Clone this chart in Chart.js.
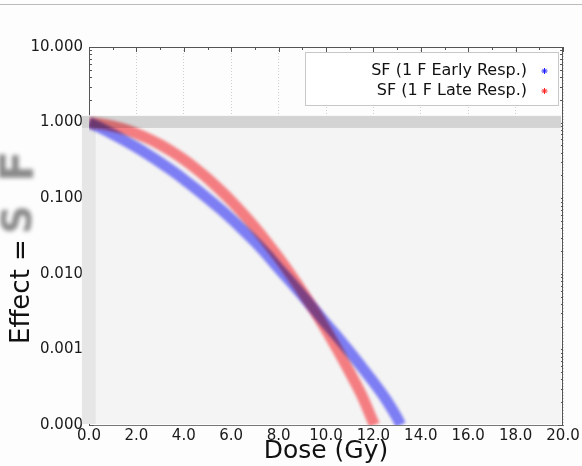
<!DOCTYPE html>
<html>
<head>
<meta charset="utf-8">
<script src="https://cdn.jsdelivr.net/npm/chart.js@4/dist/chart.umd.min.js"></script>
<style>
html, body { margin: 0; padding: 0; background: #fdfdfd; }
#wrap { width: 582px; height: 466px; }
</style>
</head>
<body>
<div id="wrap"><canvas id="doseChart" width="582" height="466"></canvas></div>
<script>
// Dose (Gy) and surviving fraction
const doseEarly = [0, 0.5, 1, 1.5, 2, 2.5, 3, 3.5, 4, 4.5, 5, 5.5, 6, 6.5, 7, 7.5, 8, 8.5, 9, 9.5, 10, 10.5, 11, 11.5, 12, 12.5, 13, 13.15];
const sfEarly = [1, 0.846, 0.706, 0.581, 0.471, 0.377, 0.298, 0.232, 0.178, 0.134, 0.100, 0.0738, 0.0535, 0.0380, 0.0265, 0.0180, 0.0118, 0.0079, 0.0052, 0.0034, 0.0022, 0.00145, 0.00093, 0.00059, 0.00037, 0.000225, 0.000125, 0.0001];

const doseLate = [0, 0.5, 1, 1.5, 2, 2.5, 3, 3.5, 4, 4.5, 5, 5.5, 6, 6.5, 7, 7.5, 8, 8.5, 9, 9.5, 10, 10.5, 11, 11.5, 12, 12.05];
const sfLate = [1, 0.961, 0.898, 0.814, 0.717, 0.614, 0.511, 0.412, 0.324, 0.247, 0.183, 0.131, 0.0918, 0.0623, 0.0411, 0.0263, 0.0164, 0.0099, 0.0058, 0.0033, 0.00182, 0.00097, 0.00050, 0.00025, 0.000108, 0.0001];

const seriesLabels = ['SF (1 F Early Resp.)', 'SF (1 F Late Resp.)'];
const yTicks = [0.0001, 0.001, 0.01, 0.1, 1, 10];

const FONT = '"DejaVu Sans", Verdana, sans-serif';

function toPoints(xs, ys) {
    return xs.map((x, i) => ({ x: x, y: ys[i] }));
}

// Frame, shaded image area and blend mode for the curves
const backdrop = {
    id: 'backdrop',
    beforeDatasetsDraw(chart) {
        const { ctx, chartArea: a, scales: { x, y } } = chart;
        ctx.save();
        // axis frame with ticks
        ctx.strokeStyle = '#555';
        ctx.lineWidth = 1;
        ctx.beginPath();
        ctx.moveTo(a.left, a.top + 0.5); ctx.lineTo(a.right, a.top + 0.5);
        ctx.moveTo(a.left + 0.5, a.top); ctx.lineTo(a.left + 0.5, a.bottom);
        ctx.moveTo(a.right - 0.5, a.top); ctx.lineTo(a.right - 0.5, a.bottom);
        for (let d = 0; d <= 20; d++) {
            const px = Math.round(x.getPixelForValue(d)) + 0.5;
            ctx.moveTo(px, a.top); ctx.lineTo(px, a.top + (d % 2 ? 3 : 5));
        }
        for (let e = -4; e < 1; e++) {
            for (let k = 1; k < 10; k++) {
                const py = Math.round(y.getPixelForValue(k * Math.pow(10, e))) + 0.5;
                const len = k === 1 ? 5 : 3;
                ctx.moveTo(a.left, py); ctx.lineTo(a.left + len, py);
                ctx.moveTo(a.right, py); ctx.lineTo(a.right - len, py);
            }
        }
        ctx.stroke();

        // shaded area of the image
        const x0 = x.getPixelForValue(-0.3);
        const x1 = a.right - 2;
        const yTop = y.getPixelForValue(1.25);
        ctx.fillStyle = '#f4f4f4';
        ctx.fillRect(x0, yTop, x1 - x0, a.bottom - 1 - yTop);
        const bTop = y.getPixelForValue(1.22);
        const bBot = y.getPixelForValue(0.85);
        ctx.fillStyle = '#d3d3d3';
        ctx.fillRect(x0, bTop, x1 - x0, bBot - bTop);
        const sx1 = x.getPixelForValue(0.28);
        ctx.fillStyle = '#e6e6e6';
        ctx.fillRect(x0, bBot, sx1 - x0, a.bottom - 1 - bBot);
        ctx.restore();

        ctx.save();
        ctx.globalCompositeOperation = 'multiply';
        ctx.filter = 'blur(1.5px)';
    },
    afterDatasetsDraw(chart) {
        chart.ctx.restore();
    }
};

// Legend box, y title, top rule
const decorations = {
    id: 'decorations',
    afterDraw(chart) {
        const { ctx, chartArea: a } = chart;
        ctx.save();

        // top rule
        ctx.strokeStyle = '#bbb';
        ctx.beginPath();
        ctx.moveTo(0, 4.5); ctx.lineTo(582, 4.5);
        ctx.stroke();

        // legend
        const bx0 = 305.5, bx1 = a.right - 4.5, by0 = a.top + 5.5, by1 = a.top + 58.5;
        ctx.fillStyle = '#fff';
        ctx.fillRect(bx0, by0, bx1 - bx0, by1 - by0);
        ctx.strokeStyle = '#c8c8c8';
        ctx.strokeRect(bx0, by0, bx1 - bx0, by1 - by0);
        ctx.font = '16px ' + FONT;
        ctx.textAlign = 'right';
        ctx.textBaseline = 'middle';
        chart.data.datasets.forEach((ds, i) => {
            const ty = a.top + 24 + i * 20;
            ctx.fillStyle = '#111';
            ctx.fillText(ds.label, 527, ty);
            ctx.strokeStyle = ds.markerColor;
            ctx.lineWidth = 1;
            Chart.helpers.drawPoint(ctx, { pointStyle: 'star', radius: 3, rotation: 0, borderWidth: 1 }, 544.5, ty);
        });

        // y axis title
        const cy = (a.top + a.bottom) / 2;
        ctx.translate(22, cy);
        ctx.rotate(-Math.PI / 2);
        ctx.textAlign = 'left';
        ctx.textBaseline = 'middle';
        ctx.font = '26px ' + FONT;
        ctx.fillStyle = '#111';
        ctx.fillText('Effect = ', -108, 0);
        ctx.filter = 'blur(2px)';
        ctx.fillStyle = '#8a8a8a';
        ctx.font = 'bold 40px ' + FONT;
        ctx.fillText('S', 2, -1);
        ctx.font = 'bold 46px ' + FONT;
        ctx.fillText('F', 54, -1);
        ctx.restore();
    }
};

const ctx = document.getElementById('doseChart').getContext('2d');
new Chart(ctx, {
    type: 'line',
    data: {
        datasets: [
            {
                label: seriesLabels[0],
                data: toPoints(doseEarly, sfEarly),
                borderColor: 'rgba(90,90,255,0.75)',
                markerColor: '#2020ff',
                borderWidth: 11,
                pointRadius: 0,
                tension: 0.3
            },
            {
                label: seriesLabels[1],
                data: toPoints(doseLate, sfLate),
                borderColor: 'rgba(255,90,95,0.75)',
                markerColor: '#ff2020',
                borderWidth: 11,
                pointRadius: 0,
                tension: 0.3
            }
        ]
    },
    options: {
        responsive: false,
        animation: false,
        devicePixelRatio: 1,
        layout: { padding: { top: 47, right: 19, left: 0, bottom: 0 } },
        plugins: { legend: { display: false }, tooltip: { enabled: false } },
        scales: {
            x: {
                type: 'linear',
                min: 0,
                max: 20,
                afterFit: s => { s.height = 41; },
                ticks: {
                    stepSize: 2,
                    maxRotation: 0,
                    padding: 2,
                    color: '#1a1a1a',
                    font: { family: FONT, size: 15 },
                    callback: v => v.toFixed(1)
                },
                grid: { color: '#cfcfcf', drawTicks: false, lineWidth: 1 },
                border: { display: true, color: '#777', dash: [1, 2] },
                title: {
                    display: true,
                    text: 'Dose (Gy)',
                    color: '#111',
                    padding: { top: 0, bottom: 0 },
                    font: { family: FONT, size: 25 }
                }
            },
            y: {
                type: 'logarithmic',
                min: 0.0001,
                max: 10,
                afterFit: s => { s.width = 89; },
                afterBuildTicks: s => { s.ticks = yTicks.map(v => ({ value: v })); },
                ticks: {
                    padding: 6,
                    color: '#1a1a1a',
                    font: { family: FONT, size: 15 },
                    callback: v => Number(v).toFixed(3)
                },
                grid: { display: false, drawTicks: false },
                border: { display: false }
            }
        }
    },
    plugins: [backdrop, decorations]
});
</script>
</body>
</html>
